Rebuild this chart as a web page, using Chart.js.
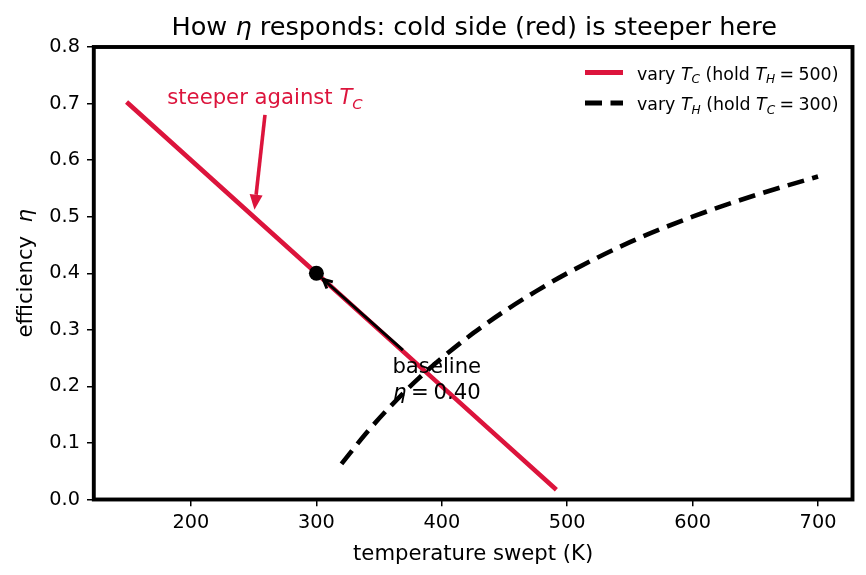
<!DOCTYPE html>
<html>
<head>
<meta charset="utf-8">
<script src="https://cdn.jsdelivr.net/npm/chart.js@4.4.1/dist/chart.umd.min.js"></script>
<style>
  html, body { margin: 0; padding: 0; background: #fff; }
  #wrap { width: 866px; height: 575px; }
</style>
</head>
<body>
<div id="wrap"><canvas id="plot" width="866" height="575"></canvas></div>
<script>
// values
const coldTemps = [150, 250, 300, 400, 490];
const coldEff = [0.70, 0.50, 0.40, 0.20, 0.02];
const hotTemps = [320, 340, 360, 380, 400, 425, 450, 475, 500, 550, 600, 650, 700];
const hotEff = [0.063, 0.118, 0.167, 0.211, 0.250, 0.294, 0.333, 0.368, 0.400, 0.455, 0.500, 0.538, 0.571];
const baselineT = [300];
const baselineEff = [0.40];

const xTicks = [200, 300, 400, 500, 600, 700];
const yTicks = [0.0, 0.1, 0.2, 0.3, 0.4, 0.5, 0.6, 0.7, 0.8];
const xLimits = [122.5, 727.5];
const yLimits = [0, 0.8];

// annotation anchors, in data units
const steeperText = [259, 0.71];
const steeperArrow = [[259, 0.68], [250, 0.50]];
const baselineText = [396, 0.21];
const baselineArrow = [[369, 0.264], [300, 0.40]];

// rich text pieces: [text, style]  style: '' roman, 'i' italic, 's' italic subscript, 'g' gap (em)
const titleText = [['How '], ['η', 'i'], [' responds: cold side (red) is steeper here']];
const xLabel = [['temperature swept (K)']];
const yLabel = [['efficiency  '], ['η', 'i']];
const legendCold = [['vary '], ['T', 'i'], ['C', 's'], [' (hold '], ['T', 'i'], ['H', 's'], [0.25, 'g'], ['='], [0.25, 'g'], ['500)']];
const legendHot = [['vary '], ['T', 'i'], ['H', 's'], [' (hold '], ['T', 'i'], ['C', 's'], [0.25, 'g'], ['='], [0.25, 'g'], ['300)']];
const steeperLabel = [['steeper against '], ['T', 'i'], ['C', 's']];
const baselineLine1 = [['baseline']];
const baselineLine2 = [['η', 'i'], [0.22, 'g'], ['='], [0.22, 'g'], ['0.40']];

const FONT = '"DejaVu Sans", sans-serif';
const RED = '#dc143c';

function segFont(seg, size) {
  const st = seg[1] || '';
  if (st === 's') return 'italic ' + (size * 0.7) + 'px ' + FONT;
  if (st === 'i') return 'italic ' + size + 'px ' + FONT;
  return size + 'px ' + FONT;
}

function drawRich(ctx, segs, x, y, size, align, color) {
  let w = 0;
  segs.forEach(s => {
    if (s[1] === 'g') { w += s[0] * size; return; }
    ctx.font = segFont(s, size);
    w += ctx.measureText(s[0]).width;
  });
  let cx = x;
  if (align === 'center') cx = x - w / 2;
  if (align === 'right') cx = x - w;
  ctx.fillStyle = color;
  ctx.textAlign = 'left';
  ctx.textBaseline = 'alphabetic';
  segs.forEach(s => {
    if (s[1] === 'g') { cx += s[0] * size; return; }
    ctx.font = segFont(s, size);
    const dy = s[1] === 's' ? size * 0.22 : 0;
    ctx.fillText(s[0], cx, y + dy);
    cx += ctx.measureText(s[0]).width;
  });
}

function px(chart, p) {
  return [chart.scales.x.getPixelForValue(p[0]), chart.scales.y.getPixelForValue(p[1])];
}

// shaft from a to b, pulled back from b by `shrink` pixels
function arrow(ctx, a, b, shrink, color, lw, filled) {
  const dx = b[0] - a[0], dy = b[1] - a[1];
  const len = Math.hypot(dx, dy);
  const ux = dx / len, uy = dy / len;
  const tip = [b[0] - ux * shrink, b[1] - uy * shrink];
  const hl = filled ? 15 : 9, hw = filled ? 6.5 : 4.5;
  const base = [tip[0] - ux * hl, tip[1] - uy * hl];
  ctx.save();
  ctx.strokeStyle = color;
  ctx.fillStyle = color;
  ctx.lineWidth = lw;
  ctx.lineCap = 'butt';
  ctx.beginPath();
  ctx.moveTo(a[0], a[1]);
  if (filled) ctx.lineTo(base[0], base[1]); else ctx.lineTo(tip[0], tip[1]);
  ctx.stroke();
  ctx.beginPath();
  ctx.moveTo(base[0] - uy * hw, base[1] + ux * hw);
  ctx.lineTo(tip[0], tip[1]);
  ctx.lineTo(base[0] + uy * hw, base[1] - ux * hw);
  if (filled) { ctx.closePath(); ctx.fill(); } else { ctx.lineJoin = 'miter'; ctx.stroke(); }
  ctx.restore();
}

const decorPlugin = {
  id: 'decor',
  afterDatasetsDraw(chart) {
    const ctx = chart.ctx;
    const a = chart.chartArea;

    // axes box
    ctx.save();
    ctx.strokeStyle = '#000';
    ctx.lineWidth = 3.9;
    ctx.strokeRect(a.left, a.top, a.right - a.left, a.bottom - a.top);
    ctx.restore();

    // red annotation
    arrow(ctx, px(chart, steeperArrow[0]), px(chart, steeperArrow[1]), 7, RED, 3.6, true);
    const st = px(chart, steeperText);
    drawRich(ctx, steeperLabel, st[0], 104, 21.2, 'center', RED);

    // baseline annotation
    arrow(ctx, px(chart, baselineArrow[0]), px(chart, baselineArrow[1]), 9, '#000', 2.9, false);
    const bt = px(chart, baselineText);
    drawRich(ctx, baselineLine1, bt[0], bt[1] - 7.5, 21.2, 'center', '#000');
    drawRich(ctx, baselineLine2, bt[0], bt[1] + 18, 21.2, 'center', '#000');

    // title and axis labels
    const midX = (a.left + a.right) / 2;
    drawRich(ctx, titleText, midX + 1, 35, 25.6, 'center', '#000');
    drawRich(ctx, xLabel, midX, 560, 21.2, 'center', '#000');
    ctx.save();
    ctx.translate(32, (a.top + a.bottom) / 2);
    ctx.rotate(-Math.PI / 2);
    drawRich(ctx, yLabel, 0, 0, 21.2, 'center', '#000');
    ctx.restore();

    // legend
    ctx.save();
    ctx.lineWidth = 4.8;
    ctx.strokeStyle = RED;
    ctx.lineCap = 'butt';
    ctx.beginPath(); ctx.moveTo(585, 72.5); ctx.lineTo(623, 72.5); ctx.stroke();
    ctx.strokeStyle = '#000';
    ctx.setLineDash([17, 8.5]);
    ctx.beginPath(); ctx.moveTo(585, 103); ctx.lineTo(623, 103); ctx.stroke();
    ctx.restore();
    drawRich(ctx, legendCold, 637, 79.5, 17.4, 'left', '#000');
    drawRich(ctx, legendHot, 637, 110, 17.4, 'left', '#000');
  }
};

const ctx = document.getElementById('plot').getContext('2d');
new Chart(ctx, {
  type: 'scatter',
  data: {
    datasets: [
      {
        label: 'vary T_C',
        data: coldTemps.map((t, i) => ({ x: t, y: coldEff[i] })),
        showLine: true,
        borderColor: RED,
        borderWidth: 4.6,
        borderCapStyle: 'square',
        pointRadius: 0,
        order: 3
      },
      {
        label: 'vary T_H',
        data: hotTemps.map((t, i) => ({ x: t, y: hotEff[i] })),
        showLine: true,
        borderColor: '#000',
        borderWidth: 4.6,
        borderDash: [17, 8.5],
        borderCapStyle: 'butt',
        cubicInterpolationMode: 'monotone',
        pointRadius: 0,
        order: 2
      },
      {
        label: 'baseline',
        data: baselineT.map((t, i) => ({ x: t, y: baselineEff[i] })),
        showLine: false,
        pointRadius: 7.5,
        pointBackgroundColor: '#000',
        pointBorderWidth: 0,
        order: 1
      }
    ]
  },
  options: {
    responsive: false,
    devicePixelRatio: 1,
    animation: false,
    layout: { padding: { top: 47, right: 13.5, left: 0, bottom: 0 } },
    plugins: {
      legend: { display: false },
      title: { display: false },
      tooltip: { enabled: false }
    },
    scales: {
      x: {
        type: 'linear',
        min: xLimits[0],
        max: xLimits[1],
        afterBuildTicks: s => { s.ticks = xTicks.map(v => ({ value: v })); },
        afterFit: s => { s.height = 75.5; },
        ticks: { font: { family: FONT, size: 19.3 }, color: '#000', padding: 5, maxRotation: 0, autoSkip: false },
        grid: { drawOnChartArea: false, tickLength: 6.8, color: '#000', lineWidth: 1.5 },
        border: { display: false }
      },
      y: {
        type: 'linear',
        min: yLimits[0],
        max: yLimits[1],
        afterBuildTicks: s => { s.ticks = yTicks.map(v => ({ value: v })); },
        afterFit: s => { s.width = 93.8; },
        ticks: { font: { family: FONT, size: 19.3 }, color: '#000', padding: 7, autoSkip: false, callback: v => v.toFixed(1) },
        grid: { drawOnChartArea: false, tickLength: 6.8, color: '#000', lineWidth: 1.5 },
        border: { display: false }
      }
    }
  },
  plugins: [decorPlugin]
});
</script>
</body>
</html>
